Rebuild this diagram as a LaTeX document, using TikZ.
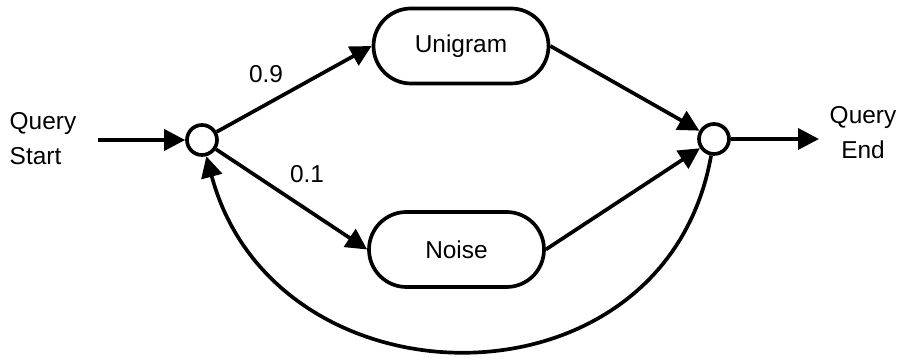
\documentclass[tikz,border=0pt]{standalone}
\usepackage{fontspec}
\setmainfont{Liberation Sans}
\usepackage{tikz}
\usetikzlibrary{arrows.meta}
\tikzset{
	lm/.style={line width=2.1pt},
	state/.style={lm, draw, circle, minimum size=0.6cm, inner sep=0pt},
	model/.style={lm, draw, rounded corners=0.75cm, minimum width=3.5cm, minimum height=1.5cm, inner sep=0pt},
	lbl/.style={font=\fontsize{13.9}{20}\selectfont, inner sep=0pt},
	go/.style={lm, -{Triangle[length=0.42cm, width=0.42cm]}}
}

\begin{document}
\begin{tikzpicture}
			%%%%% START %%%%%
			
			\useasboundingbox (0, 0) rectangle (17.98, -7.2);
			
			\node[state] (s) at (4.04, -2.8) {};
			\node[state] (e) at (14.28, -2.78) {};
			
			\node[model, lbl] (uni) at (9.22, -0.92) {Unigram};
			\node[model, lbl] (noise) at (9.13, -4.99) {Noise};
			
			\node[lbl, align=left] (qs) at (0.86, -2.78) {Query\\Start};
			\node[lbl, align=center] (qe) at (17.26, -2.66) {Query\\End};
			
			\coordinate (in) at (1.96, -2.8);
			\coordinate (out) at (16.38, -2.78);
			
			\draw[go] (in) -- (s);
			\draw[go] (s) -- (uni.west);
			\draw[go] (s) -- (noise.west);
			\draw[go] (uni.east) -- (e);
			\draw[go] (noise.east) -- (e);
			\draw[go] (e) -- (out);
			\draw[go] (e) to[out=-100, in=-75, looseness=1.35] (s);
			
			\node[lbl] (p1) at (5.32, -1.48) {0.9};
			\node[lbl] (p2) at (6.14, -3.48) {0.1};
			
			%%%%% END %%%%%
		\end{tikzpicture}
\end{document}
